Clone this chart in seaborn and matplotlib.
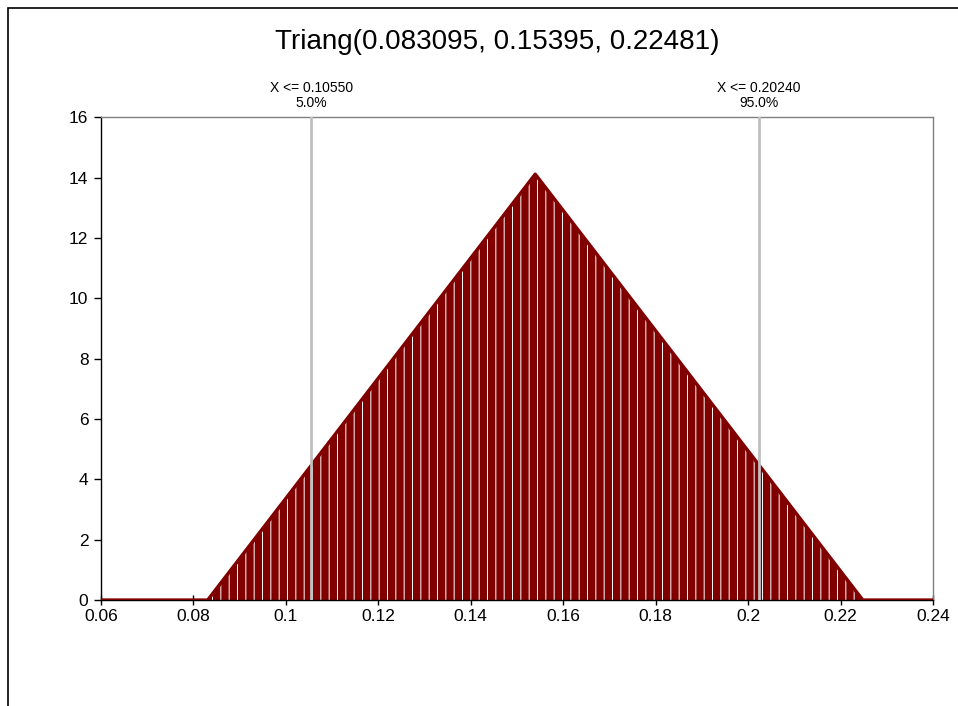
import matplotlib
matplotlib.use("Agg")
import matplotlib.pyplot as plt
import seaborn as sns
import pandas as pd
from matplotlib.patches import Rectangle

# vertici della densita triangolare
x_pts = [0.06, 0.083095, 0.15395, 0.22481, 0.24]
y_pts = [0.0, 0.0, 14.11, 0.0, 0.0]

# percentili marcati
perc_x = [0.10550, 0.20240]
perc_lab = ["5.0%", "95.0%"]

titolo = "Triang(0.083095, 0.15395, 0.22481)"
x_ticks = [0.06, 0.08, 0.1, 0.12, 0.14, 0.16, 0.18, 0.2, 0.22, 0.24]
y_ticks = [0, 2, 4, 6, 8, 10, 12, 14, 16]

df = pd.DataFrame({"x": x_pts, "y": y_pts})

sns.set_style("white")
plt.rcParams['font.family'] = ['Liberation Sans', 'DejaVu Sans']
plt.rcParams['hatch.linewidth'] = 0.7
plt.rcParams['hatch.color'] = 'white'

rosso = "#800000"
fig = plt.figure(figsize=(9.58, 7.06), dpi=100)
ax = fig.add_axes([0.1054, 0.150, 0.8685, 0.684])

ax.fill_between(df["x"], df["y"], 0, facecolor=rosso, edgecolor="white",
                hatch="||", linewidth=0, zorder=2)
sns.lineplot(data=df, x="x", y="y", ax=ax, color=rosso, linewidth=2.5, zorder=3)

for xv, lab in zip(perc_x, perc_lab):
    ax.axvline(xv, color="#c0c0c0", linewidth=2, zorder=4)
    ax.annotate("X <= %.5f\n%s" % (xv, lab), xy=(xv, 16), xytext=(0, 5),
                textcoords="offset points", ha="center", va="bottom",
                fontsize=10, linespacing=1.15, color="black")

ax.set_xlim(0.06, 0.24)
ax.set_ylim(0, 16)
ax.set_xticks(x_ticks)
ax.set_xticklabels(["%g" % t for t in x_ticks])
ax.set_yticks(y_ticks)
ax.set_xlabel("")
ax.set_ylabel("")
ax.tick_params(axis="x", direction="inout", length=7, width=1, labelsize=12.5, pad=3,
               color="black", labelcolor="black", bottom=True)
ax.tick_params(axis="y", direction="out", length=5, width=1, labelsize=12.5, pad=4,
               color="black", labelcolor="black", left=True)

for s in ["left", "bottom"]:
    ax.spines[s].set_color("black")
    ax.spines[s].set_linewidth(1)
for s in ["top", "right"]:
    ax.spines[s].set_color("#808080")
    ax.spines[s].set_linewidth(1)

fig.text(0.519, 0.940, titolo, ha="center", va="center", fontsize=20, color="black")

# cornice esterna
fig.patches.append(Rectangle((8 / 958, -0.05), 1.2, 1.05 - 8 / 706, transform=fig.transFigure,
                             fill=False, edgecolor="black", linewidth=1.2))

plt.savefig("out.png", dpi=100)
plt.close()
